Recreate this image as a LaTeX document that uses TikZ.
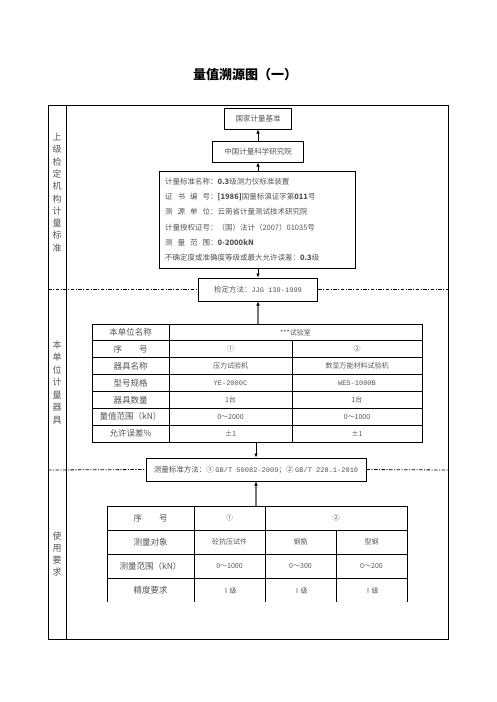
\documentclass[tikz,border=0pt]{standalone}
\usepackage{fontspec}
\setmainfont{Noto Sans CJK SC}
\setmonofont{Liberation Mono}
\usetikzlibrary{arrows.meta}
\definecolor{ink}{HTML}{555555}
\definecolor{shaft}{HTML}{777777}
\newcommand{\code}[1]{{\ttfamily\fontsize{7}{9}\selectfont #1}}

\begin{document}
\begin{tikzpicture}[x=1pt, y=-1pt,
  box/.style={rectangle, draw, line width=1pt, fill=white, inner sep=2pt, text=ink, font=\fontsize{7.5}{9}\selectfont},
  cell/.style={rectangle, draw, line width=0.9pt, inner sep=0pt, text=ink, font=\fontsize{7}{8}\selectfont},
  head/.style={font=\fontsize{8.5}{10}\selectfont},
  side/.style={align=center, text=ink, font=\fontsize{9}{12.3}\selectfont},
  frame/.style={line width=1pt},
  dashdot/.style={line width=0.8pt, dash pattern=on 3.5pt off 1.5pt on 1pt off 1.5pt},
  arr/.style={-{Latex[length=4pt, width=3.6pt]}, line width=0.8pt},
  garr/.style={-{Latex[length=4pt, width=3.6pt, color=black]}, line width=1.8pt, shaft}
]
  \useasboundingbox (0,0) rectangle (496,702);

  % title
  \node[font=\bfseries\fontsize{13}{15}\selectfont] (title) at (245,75) {量值溯源图（一）};

  % outer frame
  \draw[frame] (48,105) rectangle (448,639);
  \draw[frame] (66,105) -- (66,639);

  % left column labels
  \node[side] (lab1) at (57,192.5) {上\\级\\检\\定\\机\\构\\计\\量\\标\\准};
  \node[side, font=\fontsize{9}{12.5}\selectfont] (lab2) at (57,382.5) {本\\单\\位\\计\\量\\器\\具};
  \node[side, font=\fontsize{9}{12}\selectfont] (lab3) at (57,554) {使\\用\\要\\求};

  % upper chain
  \node[box, minimum width=67pt, minimum height=21pt] (nat) at (258,118.5) {国家计量基准};
  \node[box, minimum width=91pt, minimum height=21pt] (nim) at (258,151.5) {中国计量科学研究院};
  \node[box, minimum width=196pt, minimum height=97pt, text width=184pt, align=left,
        font=\fontsize{7.5}{15.3}\selectfont] (std) at (257,219.5) {%
    计量标准名称：\textbf{0.3}级测力仪标准装置\\
    证\hspace{0.67em}书\hspace{0.67em}编\hspace{0.67em}号：\textbf{[1986]}国量标滇证字第\textbf{011}号\\
    测\hspace{0.67em}源\hspace{0.67em}单\hspace{0.67em}位：云南省计量测试技术研究院\\
    计量授权证号：（国）法计（2007）01035号\\
    测\hspace{0.67em}量\hspace{0.67em}范\hspace{0.67em}围：\textbf{0-2000kN}\\
    不确定度或准确度等级或最大允许误差：\textbf{0.3}级};
  \node[box, minimum width=119pt, minimum height=23pt] (verif) at (258,289.5) {检定方法：\code{JJG 139-1999}};

  \draw[arr] (nim) -- (nat);
  \draw[arr] (std.north -| nim.south) -- (nim.south);
  \draw[arr] (std.south -| verif.north) -- (verif.north);

  \draw[dashdot] (48,289.5) -- (verif.west);
  \draw[dashdot] (verif.east) -- (448,289.5);

  % own instruments table
  \node[cell, head, minimum width=77pt, minimum height=16.86pt] (t1h) at (130.5,332.43) {本单位名称};
  \node[cell, minimum width=253pt, minimum height=16.86pt] (t1lab) at (295.5,332.43) {***试验室};
  \foreach \r/\a/\b/\c in {1/序\hspace{2em}号/①/②,
                           2/器具名称/压力试验机/数显万能材料试验机,
                           3/型号规格/\code{YE-2000C}/\code{WES-1000B},
                           4/器具数量/1台/1台,
                           5/量值范围（kN）/0～2000/0～1000,
                           6/允许误差\%/±1/±1} {
    \node[cell, head, minimum width=77pt, minimum height=16.86pt] (t1a\r) at (130.5,{324+16.86*(\r+0.5)}) {\a};
    \node[cell, minimum width=123pt, minimum height=16.86pt] (t1b\r) at (230.5,{324+16.86*(\r+0.5)}) {\b};
    \node[cell, minimum width=130pt, minimum height=16.86pt] (t1c\r) at (357,{324+16.86*(\r+0.5)}) {\c};
  }

  \draw[garr] (t1lab.north -| verif.south) -- (verif.south);

  \node[box, minimum width=220pt, minimum height=23pt] (meas) at (256,469.5) {测量标准方法：① \code{GB/T 50082-2009}；② \code{GB/T 228.1-2010}};

  \draw[arr] (t1a6.south -| meas.north) -- (meas.north);

  \draw[dashdot] (48,470) -- (meas.west);
  \draw[dashdot] (meas.east) -- (448,470);

  % usage requirements table
  \node[cell, head, minimum width=87pt, minimum height=24pt] (t2a1) at (150.5,518) {序\hspace{2em}号};
  \node[cell, minimum width=71pt, minimum height=24pt] (t2b1) at (229.5,518) {①};
  \node[cell, minimum width=142pt, minimum height=24pt] (t2c1) at (336,518) {②};
  \foreach \r/\a/\b/\c/\d in {2/测量对象/砼抗压试件/钢筋/型钢,
                              3/测量范围（kN）/0～1000/0～300/0～200} {
    \node[cell, head, minimum width=87pt, minimum height=24pt] (t2a\r) at (150.5,{494+24*\r}) {\a};
    \node[cell, minimum width=71pt, minimum height=24pt] (t2b\r) at (229.5,{494+24*\r}) {\b};
    \node[cell, minimum width=71pt, minimum height=24pt] (t2c\r) at (300.5,{494+24*\r}) {\c};
    \node[cell, minimum width=71pt, minimum height=24pt] (t2d\r) at (371.5,{494+24*\r}) {\d};
  }
  \node[head, text=ink] (t2a4) at (150.5,590.5) {精度要求};
  \node[cell, draw=none] (t2b4) at (229.5,590.5) {Ⅰ级};
  \node[cell, draw=none] (t2c4) at (300.5,590.5) {Ⅰ级};
  \node[cell, draw=none] (t2d4) at (371.5,590.5) {Ⅰ级};
  \foreach \x in {107,194,265,336,407}
    \draw[line width=0.9pt] (\x,578) -- (\x,602);

  \draw[garr] (t2a1.north -| meas.south) -- (meas.south);
\end{tikzpicture}
\end{document}
